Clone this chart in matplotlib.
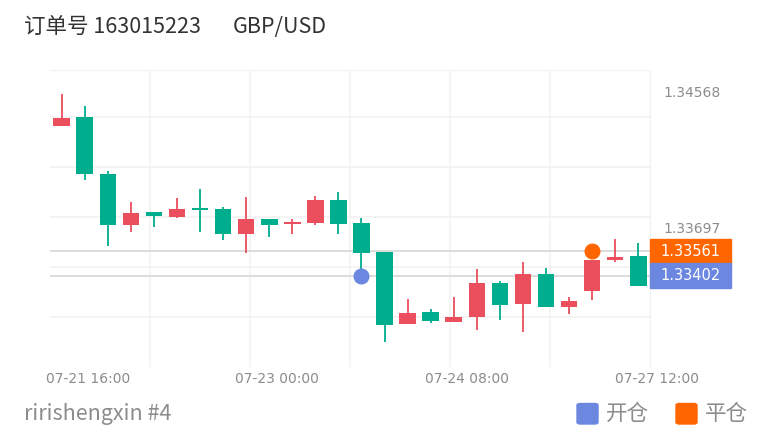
import matplotlib
matplotlib.use('Agg')
import matplotlib.pyplot as plt
import matplotlib.patches as mpatches
import matplotlib.transforms as mtrans
import numpy as np

plt.rcParams['font.family'] = ['Noto Sans CJK SC', 'DejaVu Sans']

# ohlc
opens = [1.34363, 1.34417, 1.34054, 1.33727, 1.33809, 1.33781, 1.33834, 1.33828, 1.33670, 1.33764,
         1.33732, 1.33742, 1.33887, 1.33740, 1.33557, 1.33092, 1.33169, 1.33105, 1.33137, 1.33356,
         1.33220, 1.33416, 1.33205, 1.33305, 1.33502, 1.33529]
highs = [1.34568, 1.34491, 1.34073, 1.33873, 1.33809, 1.33902, 1.33956, 1.33845, 1.33909, 1.33764,
         1.33768, 1.33915, 1.33937, 1.33775, 1.33557, 1.33252, 1.33190, 1.33265, 1.33444, 1.33367,
         1.33489, 1.33452, 1.33269, 1.33505, 1.33636, 1.33610]
lows = [1.34363, 1.34015, 1.33593, 1.33685, 1.33717, 1.33770, 1.33685, 1.33630, 1.33546, 1.33649,
        1.33670, 1.33726, 1.33668, 1.33415, 1.32977, 1.33092, 1.33098, 1.33105, 1.33054, 1.33118,
        1.33045, 1.33203, 1.33158, 1.33247, 1.33493, 1.33337]
closes = [1.34414, 1.34054, 1.33727, 1.33806, 1.33785, 1.33828, 1.33823, 1.33668, 1.33766, 1.33727,
          1.33749, 1.33886, 1.33732, 1.33546, 1.33087, 1.33166, 1.33111, 1.33141, 1.33354, 1.33214,
          1.33416, 1.33203, 1.33239, 1.33505, 1.33525, 1.33337]

open_idx, open_price = 13, 1.33402
close_idx, close_price = 23, 1.33561
axis_prices = [1.34568, 1.33697]
time_labels = ['07-21 16:00', '07-23 00:00', '07-24 08:00', '07-27 12:00']
time_pos = [0.063, 0.378, 0.695, 1.012]

order_no = '订单号 163015223'
symbol = 'GBP/USD'
footer = 'ririshengxin #4'
legend_names = ['开仓', '平仓']

up_c = '#eb4f5e'
down_c = '#00ae8d'
blue = '#6b87e0'
orange = '#ff6600'
grey = '#8c8c8c'

fig = plt.figure(figsize=(7.75, 4.40), dpi=100)
ax = fig.add_axes([50/775, (440-366.7)/440, 600/775, (366.7-70)/440])

x = np.arange(len(opens))
o = np.array(opens); c = np.array(closes)
h = np.array(highs); l = np.array(lows)
cols = [up_c if cc >= oo else down_c for oo, cc in zip(o, c)]

ax.vlines(x, l, h, colors=cols, linewidth=1.3, zorder=3)
body = np.abs(c - o)
body = np.where(body < 0.00003, 0.00003, body)
ax.bar(x, body, bottom=np.minimum(o, c), width=0.72, color=cols, zorder=4)

ax.set_xlim(-0.507, 25.51)
ax.set_ylim(1.32821, 1.34719)
x0, x1 = ax.get_xlim()
ax.set_xticks(np.linspace(x0, x1, 7)[1:-1])
ax.set_yticks([1.3442, 1.3410, 1.3378, 1.3346, 1.3314])
ax.grid(True, color='#f2f2f2', linewidth=1.2, zorder=0)
ax.tick_params(length=0, labelbottom=False, labelleft=False)
for s in ['top', 'right']:
    ax.spines[s].set_color('#f2f2f2')
for s in ['left', 'bottom']:
    ax.spines[s].set_visible(False)

ax.axhline(open_price, color='#d9d9d9', linewidth=1.3, zorder=2)
ax.axhline(close_price, color='#d9d9d9', linewidth=1.3, zorder=2)
ax.plot(open_idx, open_price, 'o', color=blue, markersize=10.5, zorder=5)
ax.plot(close_idx, close_price, 'o', color=orange, markersize=10.5, zorder=5)

ytr = ax.get_yaxis_transform()
for p in axis_prices:
    ax.text(1.022, p + 0.00004, '%.5f' % p, transform=ytr,
            va='center', ha='left', fontsize=10, color=grey, family='DejaVu Sans')

# price tags on the right
box_h = 0.0016
for p, fc in [(close_price, orange), (open_price, blue)]:
    ax.add_patch(mpatches.Rectangle((1.0, p - box_h/2), 0.135, box_h, transform=ytr,
                                    color=fc, clip_on=False, zorder=6))
    ax.text(1.0675, p, '%.5f' % p, transform=ytr, va='center', ha='center',
            fontsize=10.5, color='white', family='DejaVu Sans', zorder=7)

for lab, pos in zip(time_labels, time_pos):
    ax.text(pos, -0.042, lab, transform=ax.transAxes, ha='center', va='center',
            fontsize=10, color=grey, family='DejaVu Sans')

fig.text(24/775, 1-27/440, order_no, fontsize=15.5, color='#333333', va='center', ha='left')
fig.text(233/775, 1-27/440, symbol, fontsize=15.5, color='#333333', va='center', ha='left')
fig.text(24/775, 1-414/440, footer, fontsize=15.5, color=grey, va='center', ha='left')

for lx, name, fc in [(577, legend_names[0], blue), (676, legend_names[1], orange)]:
    fig.patches.append(mpatches.FancyBboxPatch((lx/775, 1-424/440), 21/775, 20.5/440,
                                               boxstyle='round,pad=0,rounding_size=0.004',
                                               transform=fig.transFigure, color=fc, figure=fig))
    fig.text((lx + 29)/775, 1-414/440, name, fontsize=15.5, color=grey, va='center', ha='left')

plt.savefig('out.png', dpi=100)
